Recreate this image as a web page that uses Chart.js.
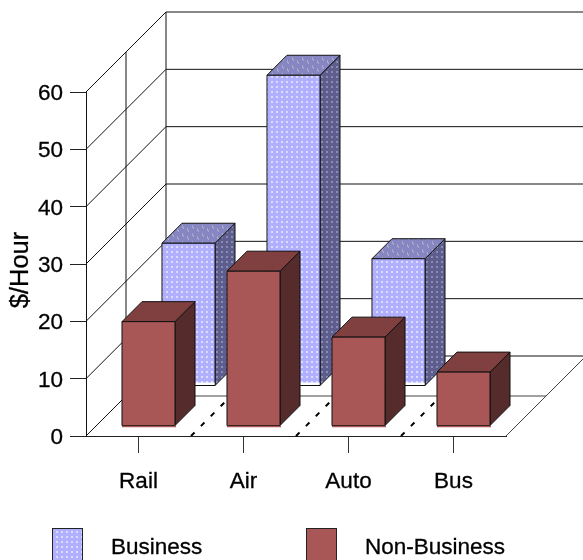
<!DOCTYPE html>
<html>
<head>
<meta charset="utf-8">
<title>Value of travel time</title>
<script src="https://cdn.jsdelivr.net/npm/chart.js@4/dist/chart.umd.min.js"></script>
<style>
  html, body { margin: 0; padding: 0; background: #fff; overflow: hidden; }
  canvas { display: block; }
</style>
</head>
<body>
<canvas id="chart" width="583" height="560"></canvas>
<script>
// Values in dollars per hour; Bus has no business figure.
const categories = ['Rail', 'Air', 'Auto', 'Bus'];
const businessValues = [24.9, 54.2, 22.2, null];
const nonBusinessValues = [18.2, 27, 15.5, 9.4];
const axisTitle = '$/Hour';
const seriesNames = ['Business', 'Non-Business'];

// Oblique projection: one unit of depth moves a point right and up by one pixel.
const FLOOR_DEPTH = 80;
const BAR_DEPTH = 20;
const SERIES_DEPTH = [50, 10]; // distance of each row's front face from the front plane
const FONT = '"Liberation Sans", Arial, sans-serif';
const FONT_SIZE = 22.5;
const TITLE_SIZE = 25.5;
const TEXT_WEIGHT = 0.3; // hairline stroke that thickens the labels slightly

function makePattern(ctx, w, h, base, paint) {
  const tile = document.createElement('canvas');
  tile.width = w;
  tile.height = h;
  const t = tile.getContext('2d');
  t.fillStyle = base;
  t.fillRect(0, 0, w, h);
  paint(t);
  return ctx.createPattern(tile, 'repeat');
}

function businessFills(ctx) {
  return {
    front: makePattern(ctx, 5, 5, '#b0b0ff', t => {
      t.fillStyle = '#dcdcff';
      t.fillRect(1, 1, 2, 2);
    }),
    side: makePattern(ctx, 5, 5, '#5e5e8e', t => {
      t.fillStyle = '#8c8cb2';
      t.fillRect(1, 1, 2, 2);
    }),
    top: makePattern(ctx, 10, 8, '#8686c2', t => {
      t.fillStyle = '#a9a9c6';
      t.fillRect(2, 1, 1, 3);
      t.fillRect(3, 3, 1, 2);
      t.fillRect(7, 4, 1, 3);
      t.fillRect(8, 6, 1, 2);
    })
  };
}

const nonBusinessFills = { front: '#a95656', side: '#552b2b', top: '#804040' };

function polygon(ctx, pts, fill) {
  ctx.beginPath();
  pts.forEach((p, i) => (i ? ctx.lineTo(p[0], p[1]) : ctx.moveTo(p[0], p[1])));
  ctx.closePath();
  if (fill) {
    ctx.fillStyle = fill;
    ctx.fill();
  }
  ctx.stroke();
}

function segment(ctx, x1, y1, x2, y2) {
  ctx.beginPath();
  ctx.moveTo(x1, y1);
  ctx.lineTo(x2, y2);
  ctx.stroke();
}

function label(ctx, text, x, y) {
  ctx.fillText(text, x, y);
  ctx.strokeText(text, x, y);
}

function drawWalls(chart) {
  const { ctx, chartArea: a, scales: { y } } = chart;
  const d = FLOOR_DEPTH;
  ctx.save();
  ctx.strokeStyle = '#111';
  ctx.lineWidth = 1;
  y.ticks.forEach(tick => {
    const py = y.getPixelForValue(tick.value);
    segment(ctx, a.left, py, a.left + d, py - d);
    segment(ctx, a.left + d, py - d, a.right + d, py - d);
  });
  // Vertical rules at the middle and back of the left wall.
  const top = y.getPixelForValue(y.max);
  const bottom = y.getPixelForValue(0);
  segment(ctx, a.left + d / 2, top - d / 2, a.left + d / 2, bottom - d / 2);
  segment(ctx, a.left + d, top - d, a.left + d, bottom - d);
  // Floor edges and its centre rule.
  ctx.strokeStyle = '#444';
  segment(ctx, a.left + d / 2, bottom - d / 2, a.right + d / 2, bottom - d / 2);
  segment(ctx, a.right, bottom, a.right + d, bottom - d);
  ctx.restore();
}

function drawCategoryDividers(chart) {
  const { ctx, chartArea: a, scales: { x, y } } = chart;
  const bottom = y.getPixelForValue(0);
  const band = x.getPixelForTick(1) - x.getPixelForTick(0);
  ctx.save();
  ctx.strokeStyle = '#000';
  ctx.lineWidth = 2;
  ctx.setLineDash([5, 9]);
  for (let i = 1; i < categories.length; i++) {
    const px = a.left + band * i;
    segment(ctx, px, bottom, px + FLOOR_DEPTH, bottom - FLOOR_DEPTH);
  }
  ctx.restore();
}

function drawBar(ctx, el, rowDepth, fills, footColor, footHeight) {
  const { x, y, base, width } = el.getProps(['x', 'y', 'base', 'width'], true);
  const l = x - width / 2 + rowDepth;
  const r = x + width / 2 + rowDepth;
  const t = y - rowDepth;
  const b = base - rowDepth;
  const k = BAR_DEPTH;
  ctx.save();
  ctx.strokeStyle = '#111';
  ctx.lineWidth = 1;
  ctx.lineJoin = 'round';
  polygon(ctx, [[r, t], [r + k, t - k], [r + k, b - k], [r, b]], fills.side);
  polygon(ctx, [[l, t], [l + k, t - k], [r + k, t - k], [r, t]], fills.top);
  polygon(ctx, [[l, t], [r, t], [r, b], [l, b]], fills.front);
  if (footHeight > 1) {
    // Pale strip along the foot of the patterned row.
    ctx.fillStyle = footColor;
    ctx.fillRect(l + 0.5, b - footHeight, r - l - 1, footHeight - 0.5);
  } else {
    // Thin highlight below the solid row.
    ctx.strokeStyle = footColor;
    ctx.lineWidth = 1.5;
    segment(ctx, l, b + 1, r + 1, b + 1);
  }
  ctx.restore();
}

function drawBars(chart) {
  const { ctx } = chart;
  const fills = [businessFills(ctx), nonBusinessFills];
  const feet = [['#ffffff', 3], ['#a95656', 1]];
  // Back row first so the front row overlaps it.
  chart.data.datasets.forEach((ds, di) => {
    chart.getDatasetMeta(di).data.forEach((el, i) => {
      if (ds.data[i] === null) return;
      drawBar(ctx, el, SERIES_DEPTH[di], fills[di], feet[di][0], feet[di][1]);
    });
  });
}

function drawTextBlocks(chart) {
  const { ctx, scales: { y } } = chart;
  const fills = [businessFills(ctx).front, nonBusinessFills.front];
  const swatchX = [52, 306];
  const textX = [111, 365];
  ctx.save();
  ctx.font = FONT_SIZE + 'px ' + FONT;
  ctx.lineWidth = TEXT_WEIGHT;
  ctx.strokeStyle = '#000';

  // Value labels, right aligned beside the tick marks and centred on the digits.
  ctx.fillStyle = '#000';
  ctx.textAlign = 'right';
  ctx.textBaseline = 'alphabetic';
  y.ticks.forEach(tick => {
    label(ctx, tick.label, 63, y.getPixelForValue(tick.value) + FONT_SIZE * 0.35);
  });
  ctx.textAlign = 'left';

  // Legend along the bottom edge.
  chart.data.datasets.forEach((ds, i) => {
    ctx.fillStyle = fills[i];
    ctx.strokeStyle = '#222';
    ctx.lineWidth = 1;
    ctx.fillRect(swatchX[i], 528, 30, 34);
    ctx.strokeRect(swatchX[i] + 0.5, 528.5, 30, 34);
    ctx.fillStyle = '#000';
    ctx.strokeStyle = '#000';
    ctx.lineWidth = TEXT_WEIGHT;
    label(ctx, ds.label, textX[i], 554);
  });

  // Rotated axis title.
  ctx.font = TITLE_SIZE + 'px ' + FONT;
  ctx.translate(28, 270);
  ctx.rotate(-Math.PI / 2);
  ctx.textAlign = 'center';
  label(ctx, axisTitle, 0, 0);
  ctx.restore();
}

const cuboidPlugin = {
  id: 'cuboids',
  beforeDatasetsDraw(chart) {
    drawWalls(chart);
    drawCategoryDividers(chart);
    drawBars(chart);
    drawTextBlocks(chart);
    return false; // the flat bars are replaced by the cuboids above
  }
};

new Chart(document.getElementById('chart'), {
  type: 'bar',
  data: {
    labels: categories,
    datasets: [
      { label: seriesNames[0], data: businessValues },
      { label: seriesNames[1], data: nonBusinessValues }
    ]
  },
  options: {
    responsive: false,
    animation: false,
    grouped: false,
    categoryPercentage: 1,
    barPercentage: 0.505,
    layout: { padding: { top: 92, right: 77, left: 0, bottom: 0 } },
    plugins: { legend: { display: false }, tooltip: { enabled: false }, title: { display: false } },
    events: [],
    scales: {
      x: {
        afterFit: s => { s.height = 124; },
        border: { color: '#222', width: 1 },
        grid: {
          offset: false,
          drawOnChartArea: false,
          tickLength: 17,
          tickColor: '#333'
        },
        ticks: {
          autoSkip: false,
          maxRotation: 0,
          padding: 15,
          color: '#000',
          textStrokeColor: '#000',
          textStrokeWidth: TEXT_WEIGHT,
          font: { family: FONT, size: FONT_SIZE }
        }
      },
      y: {
        min: 0,
        max: 60,
        afterFit: s => { s.width = 86; },
        border: { color: '#111', width: 1 },
        grid: {
          drawOnChartArea: false,
          tickLength: 16,
          tickColor: '#222'
        },
        ticks: {
          stepSize: 10,
          display: false
        }
      }
    }
  },
  plugins: [cuboidPlugin]
});
</script>
</body>
</html>
